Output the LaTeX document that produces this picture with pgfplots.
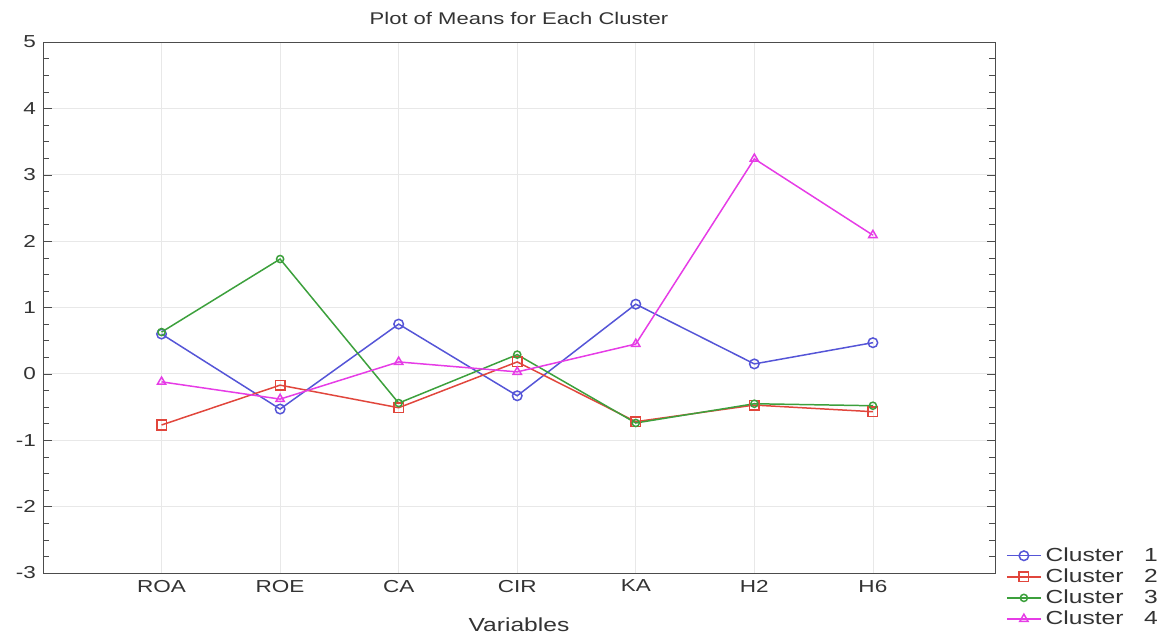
\documentclass[border=0pt]{standalone}
\usepackage{fontspec}
\setmainfont[FakeStretch=1.3]{Liberation Sans}
\usepackage{pgfplots}
\pgfplotsset{compat=1.18}
\definecolor{cA}{RGB}{85,85,215}
\definecolor{cB}{RGB}{225,70,60}
\definecolor{cC}{RGB}{60,160,60}
\definecolor{cD}{RGB}{230,60,230}
\begin{document}
\begin{tikzpicture}
\path[use as bounding box] (-21.5bp,-32bp) rectangle (562bp,286.5bp);
\begin{axis}[
  at={(0,0)}, anchor=south west,
  scale only axis, width=476bp, height=265.5bp,
  xmin=-1, xmax=7.03, ymin=-3, ymax=5,
  xtick={0,...,6}, xticklabels={ROA,ROE,CA,CIR,KA,H2,H6},
  ytick={-3,...,5},
  minor y tick num=3,
  grid=major, major grid style={gray!18},
  axis line style={gray!60!black},
  tick style={gray!60!black},
  x tick style={draw=none},
  tick label style={font=\fontsize{8.7}{10}\selectfont, text=black!80},
  /pgf/number format/assume math mode=true,
  title={Plot of Means for Each Cluster},
  title style={font=\fontsize{8.5}{10}\selectfont, text=black!80, at={(0.5,1)}, anchor=south, yshift=-1bp},
  xlabel={Variables},
  xlabel style={font=\fontsize{9.5}{11}\selectfont, text=black!80, yshift=-6bp},
  legend style={at={(axis description cs:1.005,0.064)}, anchor=north west, draw=none, fill=none,
    font=\fontsize{9.5}{11.5}\selectfont, text=black!80, row sep=-1.8bp},
  legend cell align=left,
  every axis plot/.append style={line width=0.75pt, mark size=2.4pt},
]
\addplot[color=cA, mark=o] coordinates {(0,0.60) (1,-0.53) (2,0.75) (3,-0.33) (4,1.05) (5,0.15) (6,0.47)};
\addplot[color=cB, mark=square] coordinates {(0,-0.77) (1,-0.17) (2,-0.51) (3,0.18) (4,-0.72) (5,-0.47) (6,-0.57)};
\addplot[color=cC, mark=o, mark size=1.8pt] coordinates {(0,0.63) (1,1.73) (2,-0.44) (3,0.29) (4,-0.74) (5,-0.45) (6,-0.48)};
\addplot[color=cD, mark=triangle] coordinates {(0,-0.12) (1,-0.38) (2,0.18) (3,0.03) (4,0.45) (5,3.24) (6,2.09)};
\legend{Cluster\ \ \ 1, Cluster\ \ \ 2, Cluster\ \ \ 3, Cluster\ \ \ 4}
\end{axis}
\end{tikzpicture}
\end{document}
